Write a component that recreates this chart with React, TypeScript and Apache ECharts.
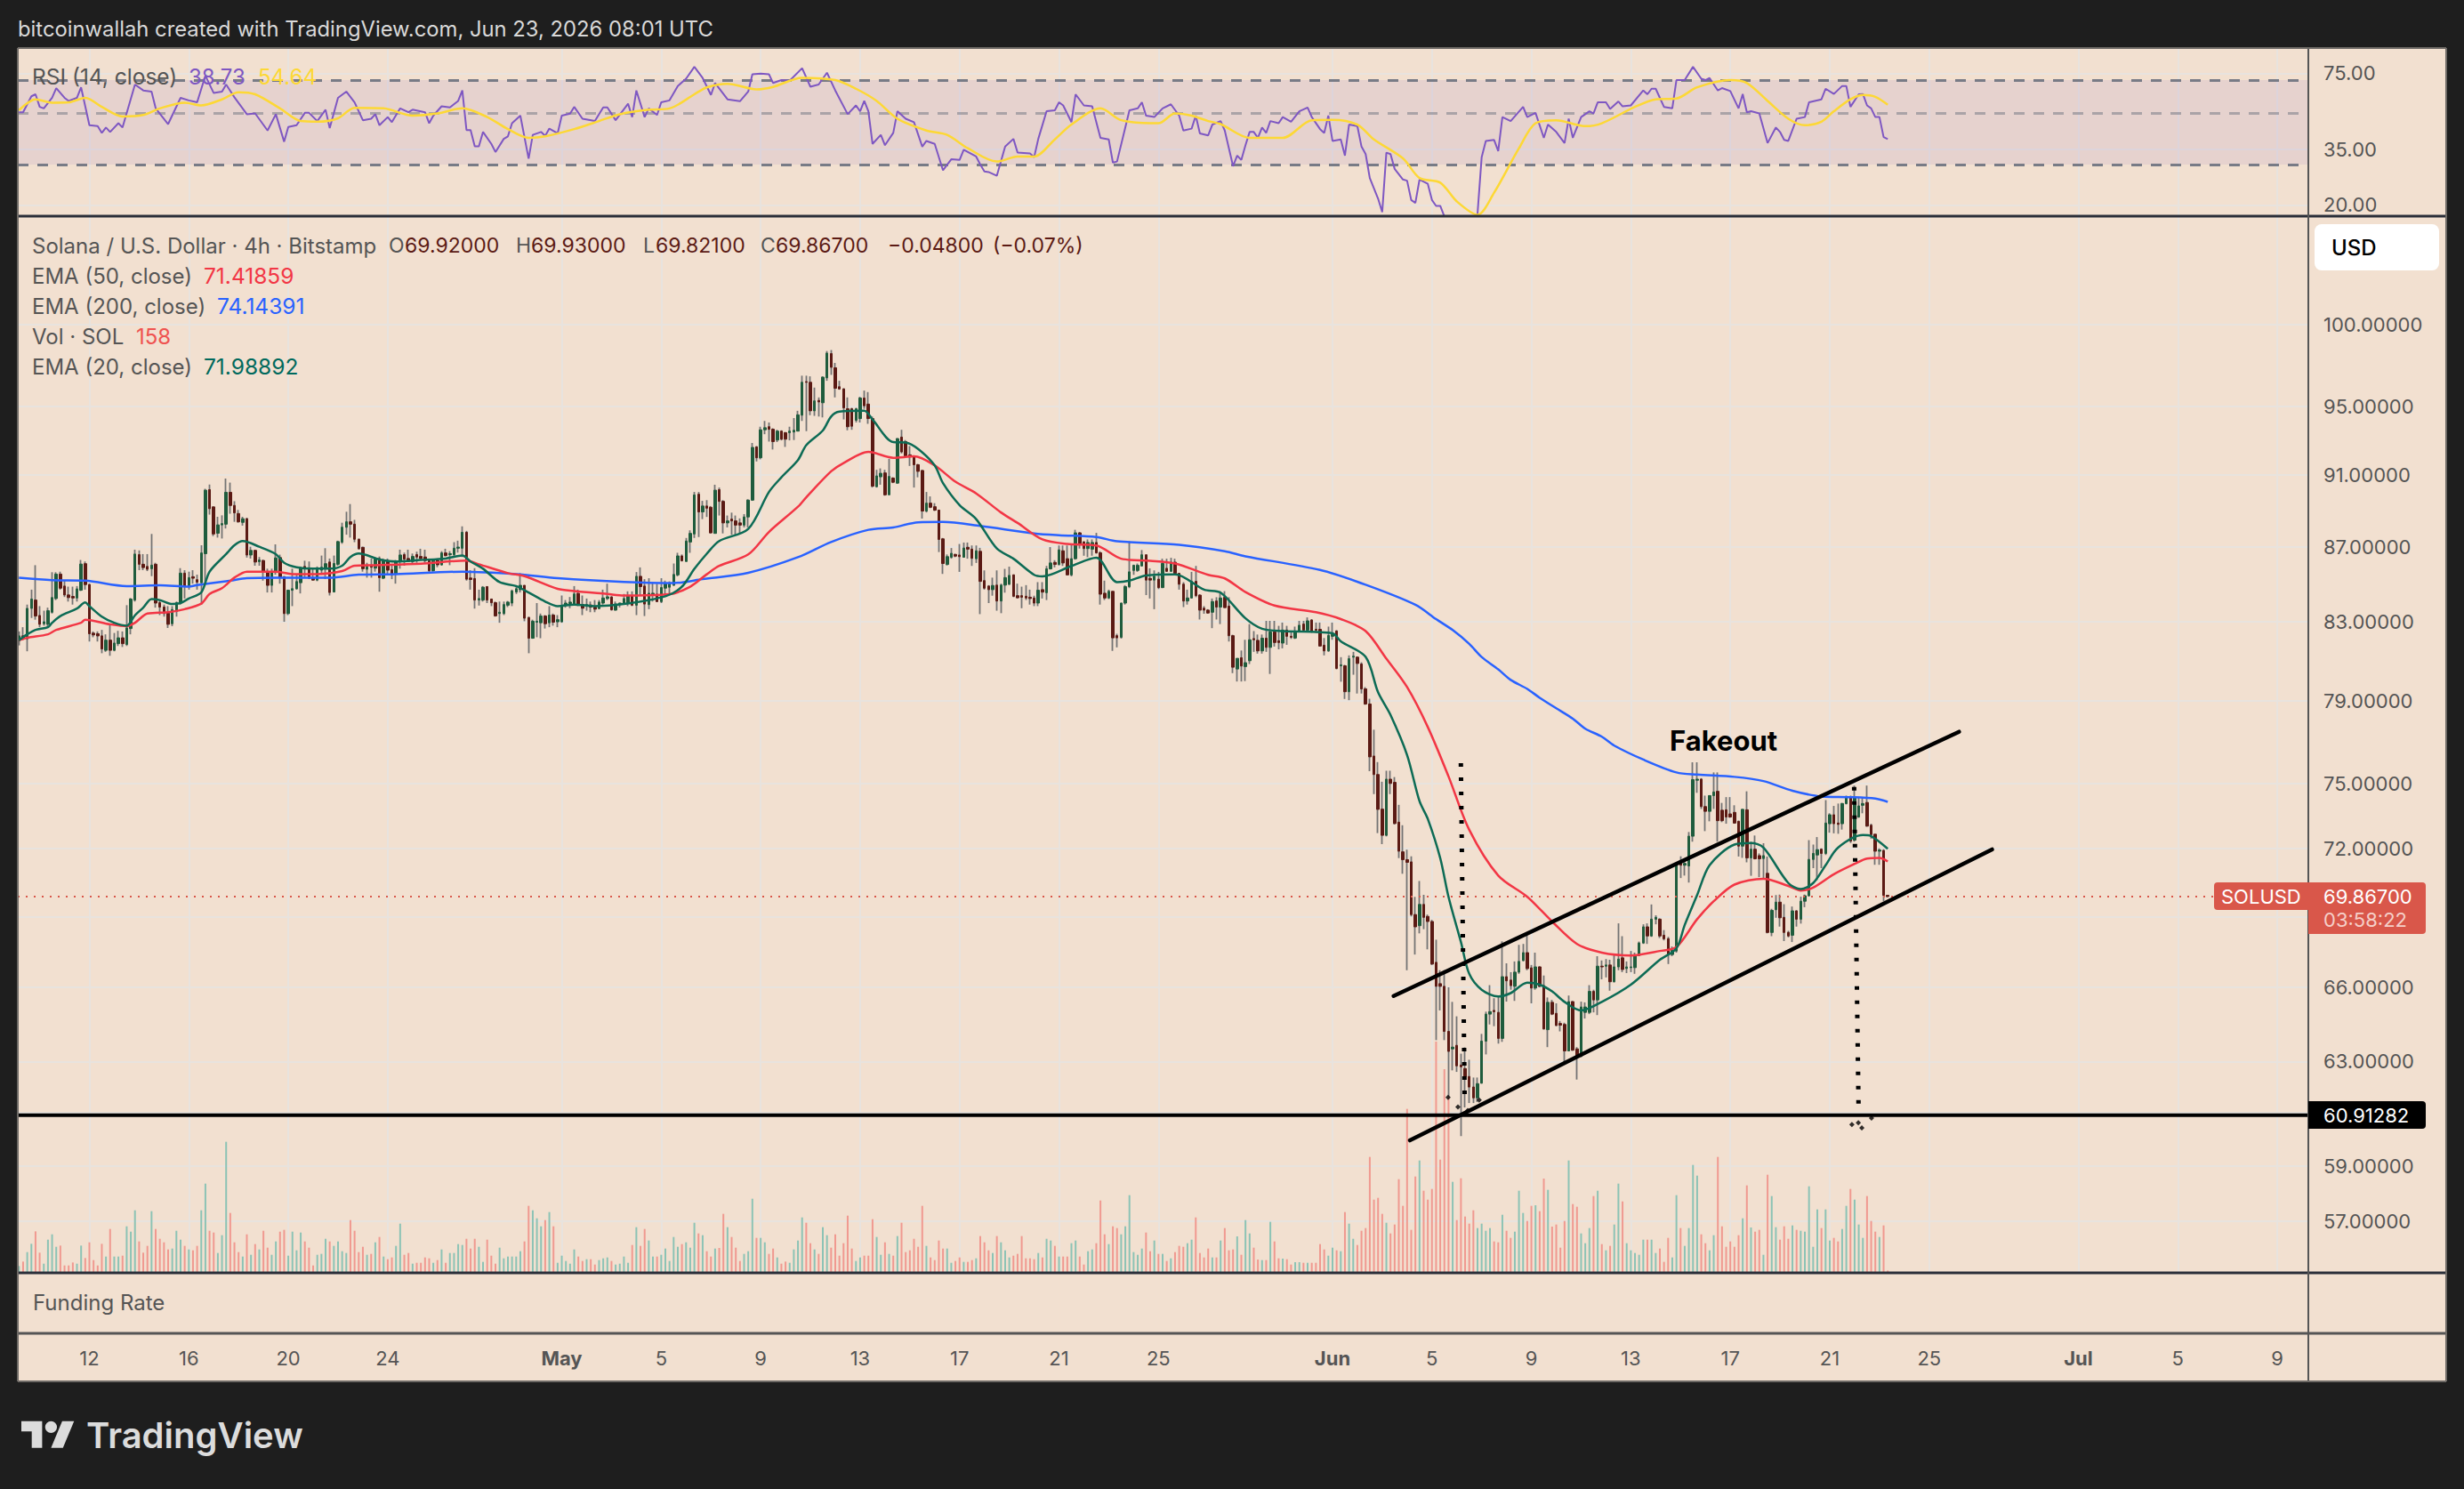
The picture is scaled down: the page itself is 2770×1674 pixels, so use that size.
import React, { useEffect, useRef } from "react";
import * as echarts from "echarts";

const FOUR_H = 4 * 3600 * 1000;
const FIRST_BAR = Date.UTC(2026, 3, 9, 4, 0);
const X_MIN = Date.UTC(2026, 3, 9, 2, 53);
const X_MAX = Date.UTC(2026, 6, 10, 6, 0);
const barTime = (i: number) => FIRST_BAR + i * FOUR_H;

// open, high, low, close per 4h bar
const candles: number[][] = [
[82.02,82.5,81.78,82.27],[82.27,82.72,82.05,82.12],[82.12,83.9,81.48,83.7],[83.7,84.69,83.2,84.19],[84.14,86,83.11,83.3],[83.33,83.82,82.72,82.87],[82.9,83.58,82.8,83],[82.87,83.74,82.72,83.58],[83.5,85.62,83.43,84.27],[84.22,85.62,84.14,85.52],
[85.52,85.65,84.69,84.77],[84.88,85.17,84.3,84.41],[84.41,84.85,84.06,84.27],[84.33,84.85,83.9,84.25],[84.25,84.88,84.06,84.73],[84.66,86.28,84.62,86.06],[86.08,86.2,84.69,84.96],[84.96,85.01,81.98,82.38],[82.41,82.5,82.2,82.32],[82.38,82.5,81.98,82.27],
[82.27,82.58,81.38,81.6],[81.53,82.35,81.45,82.05],[82.05,82.87,81.25,81.53],[81.53,82.42,81.48,81.9],[81.87,82.53,81.75,82.17],[82.17,82.5,81.7,81.87],[81.83,83.87,81.75,82.68],[82.65,84.25,82.35,84.19],[84.14,86.84,84.06,86.6],[86.57,86.8,85.73,86.05],
[86.05,86.6,85.73,85.87],[85.93,86.6,85.68,85.78],[85.81,87.7,85.41,86],[86.05,86.13,83.74,83.98],[84,84.14,83.35,83.77],[83.77,83.9,83.27,83.43],[83.45,83.82,82.68,82.87],[82.9,83.82,82.77,83.64],[83.55,84.06,83.27,84],[83.98,85.84,83.9,85.57],
[85.57,85.73,84.22,84.88],[84.88,85.65,84.69,85.33],[85.38,85.73,85.01,85.3],[85.22,85.49,84.69,85.09],[85.06,87.08,83.9,86.66],[86.62,90.22,85.01,90.14],[90.17,90.46,88.77,89.1],[89.2,89.23,87.58,87.7],[87.74,88.65,87.5,88.2],[88.2,88.73,87.45,88.27],
[88.24,90.8,88,90.02],[90.02,90.57,88.82,89.28],[89.28,89.52,88.37,88.87],[88.83,89.03,88.32,88.37],[88.34,88.65,88.16,88.54],[88.54,88.6,86.41,86.55],[86.55,87,86.36,86.8],[86.8,86.84,85.97,86.17],[86.19,86.44,85.97,86.28],[86.25,86.3,85.17,85.62],
[85.65,85.81,84.54,84.92],[84.92,85.81,84.54,85.65],[85.62,87.13,85.49,86.39],[86.41,86.57,85.01,85.33],[85.38,85.41,83,83.43],[83.43,84.69,83.35,84.66],[84.66,85.81,83.82,84.74],[84.74,85.49,84.69,85.12],[85.06,85.93,84.49,85.85],[85.93,86.24,85.33,85.85],
[85.84,86.2,85.25,85.3],[85.33,85.84,85.17,85.2],[85.2,85.93,85.14,85.76],[85.73,86.52,85.49,85.89],[85.84,86.92,85.25,86.08],[86.17,86.36,84.38,84.54],[84.57,86.52,84.54,86.09],[86.05,87.33,85.97,87.28],[87.25,88.32,87.16,88.07],[88.07,88.93,87.66,88.37],
[88.37,89.36,87.5,88.24],[88.24,88.48,87.25,87.41],[87.41,87.45,86.84,86.89],[86.97,87,85.65,85.81],[85.78,86.13,85.33,85.93],[86,86.36,85.33,85.89],[85.84,86.44,85.65,86.36],[86.36,86.47,84.58,85.33],[85.3,86.36,85.25,86.25],[86.25,86.36,85.49,85.73],
[85.76,85.97,85.25,85.49],[85.52,86.28,85.01,86.2],[86.2,86.84,85.81,86.55],[86.57,86.68,85.97,86.33],[86.36,86.84,86.16,86.2],[86.2,86.63,86.05,86.47],[86.57,86.73,86.13,86.44],[86.47,86.89,86.28,86.36],[86.44,86.84,86.13,86.25],[86.25,86.36,85.62,85.7],
[85.7,86.28,85.65,86.25],[86.25,86.36,85.89,86.02],[86.02,86.76,85.97,86.66],[86.66,86.89,86.47,86.52],[86.57,86.76,86,86.62],[86.57,87.25,86.44,86.92],[86.92,87.33,86.68,86.98],[86.92,88.12,86.44,87.79],[87.79,87.87,85.17,85.25],[85.31,85.73,84.69,85.23],
[85.28,85.84,83.69,84.14],[84.14,84.69,83.85,84.22],[84.14,84.88,84.06,84.82],[84.85,84.88,83.98,84.14],[84.19,84.22,83.82,84],[84,84.06,83.27,83.31],[83.43,84.06,82.95,83.5],[83.43,84.06,83.35,83.9],[83.87,84.09,83.77,84.03],[83.98,84.69,83.82,84.62],
[84.57,84.88,84.46,84.74],[84.69,85.57,84.54,84.92],[84.92,84.93,83.03,83.19],[83.22,83.27,81.38,82.15],[82.15,83.11,82.12,83.03],[82.98,83.98,82.2,83.03],[82.95,83.43,82.15,83.3],[83.3,83.35,82.65,82.9],[82.95,83.82,82.72,83.35],[83.35,83.43,82.8,82.98],
[83,83.35,82.72,83.11],[83,84.38,82.95,83.82],[83.85,84.14,83.74,83.98],[83.95,84.3,83.71,84.03],[83.9,84.88,83.9,84.46],[84.49,84.69,83.82,83.9],[83.9,84.38,83.35,83.71],[83.85,84.22,83.58,83.9],[83.88,84.06,83.5,83.77],[83.77,84.14,83.5,83.66],
[83.69,84.14,83.66,84.03],[83.98,84.69,83.9,84.25],[84.22,85.01,84.14,84.31],[84.3,84.35,83.58,83.63],[83.61,84.06,83.58,83.93],[83.9,84,83.75,83.98],
[83.93,84.46,83.9,84.22],[83.98,84.6,83.82,84.38],[84.38,84.6,83.82,83.87],[83.87,85.63,83.35,85.4],[85.4,85.88,84.37,84.85],[84.88,85.25,83.3,83.93],[83.9,85.3,83.66,84.5],[84.4,85.09,84.06,84.5],[84.45,85,84.03,84.06],[84.06,85.3,83.98,84.8],
[84.77,85.17,84.34,85],[84.82,85.13,84.45,85],[84.93,86.09,84.88,85.5],[85.48,86.67,85.4,86.5],[86.5,86.58,86.2,86.24],[86.2,87.48,86.2,87.31],[87.26,87.9,86.67,87.73],[87.7,90.04,87.48,89.87],[89.91,90.04,87.53,88.92],[88.92,89.54,88.52,89.25],
[89.25,89.58,88.64,89.13],[89.18,89.25,87.73,87.76],[87.73,90.45,87.73,90.14],[90.17,90.29,88.72,89.51],[89.51,89.58,87.73,88.31],[88.31,88.72,88.06,88.42],[88.52,88.88,87.65,88.42],[88.42,88.72,87.65,88.19],[88.31,88.56,87.73,88.19],[88.19,88.8,88.06,88.64],
[88.64,89.63,88.06,89.58],[89.58,92.85,89.54,92.59],[92.62,92.67,91.78,91.99],[91.99,93.8,91.9,93.62],[93.62,94.14,93.36,93.74],[93.8,94.05,92.93,93.65],[93.65,93.71,92.47,92.93],[93.02,93.62,92.9,93.54],[93.54,93.59,93,93.07],[93.45,93.49,92.62,93.07],
[93.45,93.8,93,93.54],[93.49,94.31,93.02,93.59],[93.54,94.74,93.54,94.5],[94.48,96.85,94.14,96.45],[96.49,96.85,93.54,96.45],[96.45,96.81,94.48,94.74],[94.74,96.13,94.44,95.33],[95.36,95.54,94.4,95.27],[95.22,96.81,94.35,96.76],[96.72,98.36,96.54,98.23],
[98.2,98.42,96.9,97.36],[97.33,97.63,95.54,96.09],[96.18,96.54,96,96.05],[96.05,96.09,94.23,94.92],[94.86,95.54,93.59,93.8],[94.86,94.92,93.62,93.83],[94.18,94.92,94.05,94.86],[94.28,95.58,94.05,95.5],[95.5,95.95,94.86,95.04],[95.14,95.86,93.97,94.28],
[94.28,94.4,90.29,90.37],[90.34,91.3,90.29,90.95],[90.9,91.38,90.45,91.1],[91.12,91.3,89.83,89.88],[89.88,91.93,89.88,90.92],[90.83,90.87,90.54,90.59],[90.54,93.14,90.5,93.1],[93.19,93.62,92.24,92.33],[92.93,93.02,92.07,92.1],[92.16,92.67,91.52,92.04],
[92.04,92.07,90.29,91.59],[91.59,91.64,90.87,91.21],[91.26,91.3,88.55,88.97],[88.97,90.04,88.89,89.41],[89.41,89.79,89.13,89.18],[89.21,89.41,88.97,89.02],[89.02,89.05,86.71,87.4],[87.43,87.48,85.53,86.09],[86.04,86.58,85.98,86.46],[86.43,86.93,86.35,86.64],
[86.58,86.62,86.43,86.49],[86.55,87.15,85.64,86.46],[86.43,87.23,86.4,86.93],[86.97,87.23,86.35,86.87],[86.87,87.07,85.96,86.37],[86.35,87.07,86.12,86.78],[86.75,86.94,83.4,85.13],[85.17,85.72,84.69,84.77],[84.88,84.93,83.98,84.69],[84.69,85.33,84.37,84.91],
[84.93,85.72,83.58,84.09],[84.09,85.01,83.45,84.93],[84.93,85.8,84.53,85.33],[84.98,85.92,84.93,85.45],[85.48,85.5,84.29,84.34],[84.37,85.01,84.22,84.26],[84.37,84.85,83.71,84.29],[84.34,84.93,84.14,84.25],[84.29,84.69,83.9,84.22],[84.25,84.37,83.82,83.98],
[83.98,85.09,83.82,84.66],[84.69,85.09,84.22,84.56],[84.53,85.96,84.14,85.8],[85.8,86.98,85.77,86.12],[86.15,86.27,85.88,86.04],[86.04,87.07,85.98,86.83],[86.78,87.07,85.96,86.12],[86.35,87.07,85.45,85.48],[85.48,87.15,85.4,86.35],[86.35,87.93,86.3,87.76],
[87.76,87.81,86.9,87.15],[87.26,87.31,86.51,86.9],[86.9,87.4,86.43,87.23],[86.87,87.4,86.51,87.23],[87.23,87.76,86.62,86.67],[86.67,86.75,83.9,84.45],[84.5,85.17,84.14,84.25],[84.25,84.69,84.19,84.6],[84.6,84.61,81.5,82.17],[82.28,82.38,81.68,82.17],
[82.2,84,82.13,83.98],[83.98,84.93,83.9,84.85],[84.85,87.31,84.77,85.64],[85.72,86.03,85.48,85.99],[85.72,86.09,85.64,85.99],[85.96,86.82,85.93,86.56],[86.56,86.58,84.4,85.2],[85.29,85.83,84.22,85.2],[85.2,85.72,83.66,85.4],[85.25,85.64,84.72,84.8],
[84.8,86.35,84.77,86.09],[85.83,86.35,85.64,85.67],[85.67,86.4,85.64,86.16],[86.16,86.35,85.53,85.56],[85.56,85.56,84.69,84.98],[84.98,85.09,83.77,84.09],[84.09,84.69,83.9,84.25],[84.25,85.64,84.22,85.13],[85.13,85.96,84.29,84.37],[84.4,84.45,83.12,83.61],
[83.71,83.82,83.42,83.61],[83.61,83.66,83.42,83.46],[83.5,84.22,82.67,84.06],[84.09,84.29,83.12,83.77],[83.77,84.61,82.88,84.25],[84.28,84.61,83.74,83.74],[83.82,84.29,81.98,82.28],[82.28,82.33,80.37,80.67],[80.58,81.12,79.95,81.12],[81.15,81.52,79.95,80.73],
[80.7,82.07,79.97,80.9],[81,82.88,80.83,82.07],[82.13,82.52,81.45,82.07],[82.04,82.34,81.36,81.5],[81.5,82.34,81.36,82.15],[82.15,83.05,81.45,81.68],[81.68,83.05,80.33,82.47],[82.47,83.05,81.72,81.93],[82.02,82.79,81.58,81.93],[81.9,82.96,81.63,82.57],
[82.57,82.79,81.81,82.25],[82.25,82.47,82.11,82.2],[82.16,82.75,82.11,82.52],[82.52,83.05,82.47,82.82],[82.88,83.05,82.47,82.57],[82.57,83.23,82.47,83.05],[83.09,83.14,82.43,82.52],[82.61,82.96,82.43,82.57],[82.61,82.96,81.72,81.75],[81.79,82.16,81.27,81.5],
[81.5,82.75,81.45,82.29],[82.25,82.96,82.07,82.34],[82.52,82.57,80.56,80.61],[80.74,81.18,79.94,80.79],[80.74,80.79,79.08,79.44],[79.44,81.27,79.02,81.1],[81.18,81.45,80.29,81.23],[81.18,81.22,79.35,80.86],[80.83,80.92,79.35,79.58],[79.58,79.67,78.79,78.83],
[78.83,79.09,75.58,76.26],[76.3,77.57,74.5,75.42],[75.42,76.01,72.7,73.79],[73.8,75.08,72.2,72.6],[72.6,75.6,72.55,75.2],[75.2,75.6,74.5,75],[75.05,75.3,73.09,73.14],[73.2,74,71.57,71.88],[71.85,73.06,70.87,71.5],[71.5,71.95,66.71,71.38],
[71.4,71.65,69,69.08],[69.08,69.85,67.37,68.55],[68.6,70.55,68.27,69.52],[69.52,69.94,68.45,68.96],[69,69.08,67.59,68.78],[68.78,68.85,66.93,66.97],[67.04,68,63.85,66.04],[66.15,66.71,65.05,66.04],[66.04,66.71,63.85,64.2],[64.2,66,61.63,63.4],
[63.5,65.4,62.65,63.57],[63.64,64.81,62.59,62.83],[62.86,63.31,60.12,62.79],[62.72,63.56,61.21,62.41],[62.41,63.07,61.38,62],[62,62.37,61.38,61.58],[61.58,62.37,61.42,62.13],[62.15,64.1,62.13,63.81],[63.81,65,63.28,64.9],[64.9,66.09,64.48,65],
[65.05,65.55,64.41,65],[64.97,65.62,63.71,63.92],[63.92,67.93,63.78,66.44],[66.44,67,65.41,66.27],[66.3,66.63,65.9,66.07],[66.04,67.08,65.44,66.63],[66.63,67.78,66.56,67.08],[67.12,67.82,67.08,67.45],[67.45,68.19,66.71,66.78],[66.81,66.93,65.34,65.97],
[65.97,67.45,65.9,66.85],[66.85,66.88,66,66.04],[66.07,66.49,64.27,64.3],[64.27,65.58,63.57,65.38],[65.38,65.48,64.86,64.9],[64.93,65.34,64.41,64.44],[64.52,64.62,64.2,64.45],[64.48,64.55,62.93,63.42],[63.42,65.66,63.4,65.41],[65.41,65.44,63.42,63.45],
[63.5,63.57,62.29,63.17],[63.21,65.41,63.17,65.19],[64.97,65.38,64.72,65.19],[64.97,66.09,64.9,65.83],[65.83,65.9,64.97,65.48],[65.48,67.3,64.86,66.88],[66.88,67.12,66.33,66.85],[66.88,67.18,66.41,66.93],[66.93,67.15,65.86,66.23],[66.23,67.38,66.2,66.85],
[66.85,68.7,66.71,67.18],[67.23,68.15,66.63,66.74],[66.78,67.08,66.59,66.85],[66.82,67.52,66.63,66.85],[66.82,67.45,66.56,67.33],[67.33,67.92,67.3,67.86],[67.86,68.66,67.82,68.55],[68.55,68.7,67.82,68.16],[68.16,69.52,68.12,68.88],[68.88,69.05,68.66,68.96],
[68.88,68.92,68.07,68.16],[68.19,68.41,67.97,68.04],[68.04,68.12,66.97,67.37],[67.37,67.71,67.3,67.55],[67.52,71.33,67.45,71.25],[71.33,71.65,70.68,71.25],[71.25,71.49,70.79,71.33],[71.22,72.75,70.48,72.56],
[72.56,76,72.31,75.18],[75.15,76,74.56,75.2],[75.2,75.25,73.81,73.92],[73.92,74.43,72.79,73.7],[73.7,74.45,73.24,74.43],[74.43,75.52,73.81,74.6],[74.63,75.52,72.31,73.27],[73.75,74.09,73.2,73.27],[73.77,74.36,73.13,73.44],[73.58,74.36,73.4,73.44],
[73.65,73.98,73.13,73.16],[73.24,73.27,71.64,72.11],[72.11,73.81,71.58,73.79],[73.77,74.63,71.38,71.58],[71.58,72.31,70.78,71.97],[71.97,72.59,71.51,71.54],[71.68,71.78,70.72,71.54],[71.55,72.24,70.65,71.68],[70.89,71.64,68.27,68.31],[68.31,69.33,68.15,69.26],
[69.29,69.93,68.94,69.62],[69.62,69.95,68.56,68.94],[68.96,69.53,67.94,68.31],[68.31,68.38,68.1,68.16],[68.19,69.43,67.9,69.24],[69.24,69.27,68.56,68.88],[68.88,69.86,68.69,69.66],[69.66,69.95,69.4,69.9],[69.9,72.38,69.86,71.51],[71.51,72.18,71.12,71.78],
[71.71,72.52,70.59,71.95],[71.97,72.01,71.12,71.78],[71.78,74.22,71.71,73.16],[73.13,73.61,72.72,73.54],[73.54,73.95,72.69,73.13],[73.16,74.06,72.67,73.1],[73.13,74.09,72.86,74.06],[74.06,74.43,74.02,74.36],[74.36,74.43,72.25,72.34],[72.38,74.9,72.31,74.33],
[73.44,74.36,73.4,73.95],[73.98,74.36,73.61,74.06],[74.11,74.9,72.99,73.02],[73.06,73.13,72.45,72.63],[72.65,72.65,71.27,71.88],[71.88,72.01,71.27,71.93],[71.91,71.97,69.66,69.92],[69.92,69.93,69.821,69.867],
];

// traded volume per bar, SOL
const volumes: number[] = [
460,760,1400,1960,2800,1360,620,2240,2600,1760,1840,500,500,700,620,1840,1000,2060,860,500,1960,1100,2960,1100,1100,1160,3140,2780,4220,2120,1360,1820,4160,2960,2300,2060,1580,1640,2840,2240,1820,1580,1520,1820,4220,6020,2840,2720,1340,2540,8840,4040,2060,1400,1100,2600,1220,1940,1580,2840,
1700,1220,2120,2780,2900,1160,2780,1520,2720,2120,1700,500,1220,1280,2300,2120,1820,2120,1460,1340,3560,2840,1400,1760,1220,1280,2060,2420,1100,920,1040,1820,3320,1220,1340,620,680,680,1040,980,
680,860,1580,680,1340,1340,1940,1880,2300,1640,2300,1760,740,2240,1160,620,1700,980,1100,1100,1100,1460,2120,4520,4220,3680,3140,3560,4100,3140,680,1160,800,620,1580,1100,800,920,920,560,
860,980,1040,800,560,620,1100,680,1880,3080,1820,2960,2180,1100,1100,1220,1640,800,2420,1760,1940,2060,1700,3380,2660,2540,1460,1100,1640,1680,3980,3080,2420,1700,800,1280,1460,5000,2360,2360,
2060,1280,1640,1040,620,760,680,1580,2180,3740,3380,2000,1580,1280,3080,2540,1700,2600,1160,2000,3860,1640,800,1040,1160,1160,3620,2420,1220,2060,1280,1160,2480,3380,1400,1520,2300,1760,4520,1820,
1040,860,2180,1640,1640,680,800,1040,740,740,860,980,2480,2060,1520,1340,2480,2060,1520,1040,1160,1280,2480,980,980,920,1340,1040,2300,2180,1820,1100,1100,1100,2000,2180,1100,560,1460,1580,2000,4880,
2600,1940,3140,3020,2600,3140,5240,1400,1220,1640,2720,1460,2180,1280,1280,800,980,1400,1820,1760,2000,2240,3740,1340,1040,1640,1040,1040,2180,3020,1520,1580,2460,1220,3560,2660,1700,900,860,860,3440,2120,
980,960,920,560,720,720,680,680,680,680,1940,1580,1160,1700,1520,1460,4100,3320,2300,1880,2840,3020,7820,4940,5060,3980,3380,2660,3260,6320,4520,11060,2900,6500,7580,5540,4940,5660,15600,7640,13740,11880,
6140,3560,6380,3800,3320,4220,3020,3320,2840,3020,2120,2060,3920,2840,2360,2780,5540,4040,3500,4520,4560,4160,6360,5600,3120,3260,1700,3500,7580,4640,4460,2660,2000,3020,5180,5540,1940,1520,1820,3260,
6020,4820,2000,1520,1340,1220,2240,2240,2240,1340,1640,740,2360,1040,5240,3020,1820,3020,7280,6560,2600,2000,1520,2540,7820,3140,1760,2120,1760,2540,3680,5900,3060,2780,2900,1220,6620,5180,3080,2240,
3140,2300,3200,2900,2840,2780,5840,1760,4280,3020,4280,2180,2360,2120,2960,4520,5660,4940,3260,2360,5180,3500,2780,2420,3200,158,
];

// [bar index, value] read along each moving average
const ema20: number[][] = [[0,82.05],[2,82.35],[4,82.58],[7,82.72],[8,82.95],[10,83.3],[14,83.69],[16,84.01],[17,83.82],[20,83.27],[23,82.95],[26,82.8],[28,83.34],[30,83.74],[32,84.19],[34,84.14],[37,83.93],[39,83.98],[41,84.22],[44,84.54],[46,85.65],[50,86.6],[52,87.08],[54,87.31],[58,87],[62,86.6],[64,86.13],[67,85.89],[71,85.81],[75,85.81],[78,85.97],[80,86.44],[82,86.63],[87,86.31],[91,86.2],[97,86.28],[103,86.36],[107,86.52],[109,86.2],[112,85.81],[116,85.09],[120,84.88],[123,84.54],[127,84.06],[130,83.82],[134,83.9],[139,83.82],[146,83.93],[156,84.34],[160,84.85],[163,85.8],[166,86.62],[169,87.31],[176,87.98],[181,90.04],[184,90.87],[188,91.86],[190,92.72],[194,93.58],[196,94.4],[198,94.69],[204,94.74],[206,94.22],[211,92.9],[214,92.88],[217,92.5],[221,91.55],[223,90.54],[227,89.3],[231,88.52],[236,86.9],[240,86.35],[245,85.48],[247,85.4],[254,85.96],[260,86.4],[265,85.09],[268,85.17],[272,85.45],[279,85.51],[286,84.69],[290,84.53],[296,83.18],[300,82.64],[305,82.52],[317,82.4],[319,81.99],[325,81.19],[328,79.41],[331,78.29],[335,76.35],[338,74.17],[340,73.35],[343,71.57],[345,69.85],[348,67.9],[350,66.56],[353,65.9],[357,65.62],[360,65.76],[364,66.19],[367,66.11],[370,65.83],[373,65.4],[377,65.05],[382,65.4],[389,66.11],[396,67.15],[400,67.63],[402,68.63],[405,69.93],[408,71.25],[414,72.18],[418,72.25],[421,72.04],[427,70.46],[430,70.19],[433,70.46],[436,71.25],[439,72.04],[445,72.61],[447,72.56],[451,71.99]];
const ema50: number[][] = [[0,82.05],[2,82.17],[7,82.35],[9,82.58],[15,82.95],[16,83.11],[22,82.87],[26,82.77],[28,82.95],[31,83.43],[36,83.5],[40,83.66],[44,83.95],[46,84.46],[49,84.77],[52,85.33],[55,85.65],[62,85.65],[66,85.52],[72,85.52],[78,85.68],[81,85.97],[86,86],[97,86.08],[108,86.25],[111,86.05],[118,85.57],[122,85.41],[130,84.73],[134,84.62],[142,84.46],[146,84.38],[157,84.45],[162,84.85],[166,85.51],[169,85.96],[176,86.58],[181,87.81],[188,89.21],[190,89.74],[196,91.21],[199,91.69],[205,92.33],[211,91.99],[216,92.07],[221,91.55],[226,90.62],[231,89.96],[237,88.89],[241,88.31],[247,87.4],[253,87.15],[260,87.07],[266,86.35],[273,86.24],[279,86.09],[287,85.48],[291,85.29],[296,84.56],[303,83.85],[313,83.5],[319,83.14],[325,82.52],[330,81.1],[335,79.67],[340,77.7],[345,75.33],[350,72.85],[357,70.79],[364,69.85],[370,68.78],[376,67.82],[382,67.45],[389,67.33],[396,67.52],[400,67.69],[405,68.88],[409,69.66],[414,70.39],[421,70.65],[427,70.33],[430,70.13],[433,70.26],[438,70.85],[443,71.31],[446,71.55],[449,71.58],[451,71.42]];
const ema200: number[][] = [[0,85.33],[8,85.2],[16,85.17],[26,84.88],[34,84.92],[41,84.85],[43,84.93],[51,85.17],[55,85.3],[62,85.33],[75,85.33],[82,85.49],[91,85.52],[107,85.65],[120,85.52],[130,85.3],[146,85.1],[158,85.04],[165,85.25],[176,85.59],[188,86.43],[196,87.26],[205,87.93],[211,88.06],[217,88.34],[223,88.36],[232,88.14],[245,87.73],[251,87.63],[260,87.53],[265,87.3],[280,87.1],[291,86.75],[296,86.48],[314,85.74],[325,84.95],[337,83.89],[342,83.14],[346,82.57],[350,81.86],[353,81.19],[357,80.56],[360,80.03],[364,79.58],[367,79.14],[371,78.62],[375,78.11],[378,77.62],[382,77.23],[385,76.8],[392,76.13],[400,75.52],[405,75.42],[414,75.31],[421,75.11],[428,74.66],[435,74.39],[442,74.36],[448,74.29],[451,74.14]];

const rsi: number[][] = [[0,50.7],[1,50.7],[3,59.5],[4,60.7],[5,53.5],[6,52.7],[8,58.6],[9,64.6],[11,58.6],[12,56.8],[14,58.6],[15,65.1],[17,44.5],[19,44.1],[20,41.2],[21,43.5],[22,41.6],[24,45.4],[25,43.5],[28,67],[30,63.1],[32,62.4],[33,52.7],[36,45],[39,58.6],[41,57.1],[43,56],[45,73.2],[47,61.5],[49,62.4],[50,67],[52,58.9],[55,49.7],[57,50.1],[60,42.2],[62,49.7],[64,37.7],[65,43.7],[67,44.5],[69,50.4],[70,50.4],[72,46.4],[74,52],[75,43.2],[77,58.6],[79,62.4],[81,56],[83,46.8],[85,47.5],[86,49.7],[87,44.5],[89,48.3],[90,45.9],[92,52.7],[94,50.7],[95,52],[98,50.7],[99,45.4],[100,49],[102,53.8],[104,53.2],[106,56.8],[107,63.1],[108,42.4],[109,42.4],[110,36],[111,36],[112,41.6],[114,36.9],[115,34],[117,38.8],[118,39.8],[119,45.4],[121,49],[123,31.8],[124,40.4],[126,41.6],[127,40],[128,43],[130,41],[131,49],[133,50],[134,53.5],[136,47.5],[139,46.4],[141,53.2],[142,53.2],[144,46.8],[147,55.2],[148,48.3],[149,63.1],[151,48.3],[152,52.7],[154,49.3],[155,56],[157,57.1],[159,66],[161,71],[163,80],[165,71.5],[167,60.3],[168,68],[171,57.7],[174,56.6],[176,62.4],[177,74.2],[179,74.7],[181,74.2],[182,68],[184,70],[186,69.6],[189,78.9],[191,65.5],[193,67],[195,75.4],[197,63.1],[200,49.7],[202,54.3],[203,51.2],[204,56.8],[205,51.2],[206,36.9],[208,40.4],[209,36.4],[211,41.2],[212,51.2],[214,47.5],[216,45.9],[218,35.9],[219,38],[221,36.9],[223,28.3],[225,31.6],[227,31.4],[228,34.8],[231,32.5],[232,30],[233,28],[234,27.8],[236,26.8],[238,35.9],[240,38.8],[241,33.8],[244,33.5],[245,32.3],[246,38.8],[248,51.2],[250,51.7],[251,56],[252,54.3],[254,45.9],[255,60.7],[257,54.3],[259,53.8],[261,39.2],[263,38.6],[264,30.6],[265,30.9],[267,43.5],[268,51.7],[270,52.7],[271,56],[272,49],[274,48.3],[276,52.7],[278,54.9],[280,49],[281,42.2],[283,43],[284,49],[285,41],[287,40.2],[288,44.8],[290,46.4],[291,42.2],[293,29.5],[294,32.8],[295,31.4],[296,36.4],[297,41.6],[298,41.6],[299,39.2],[300,43.5],[301,41.2],[302,46.4],[304,45.4],[305,48.3],[307,46.1],[309,51.2],[311,53.2],[312,48.3],[314,42.8],[315,41.2],[316,49],[317,38],[319,38.6],[320,32.8],[321,44.8],[323,44.1],[324,35.9],[325,33.3],[326,26.2],[328,21.3],[329,18.6],[330,33.8],[331,33.3],[332,28.7],[334,25.8],[335,25.5],[336,21],[337,20.4],[338,25.8],[340,24.7],[341,21],[342,19.8],[343,19.8],[344,17.8],[347,16],[350,15.5],[352,18.3],[353,32.3],[354,38],[356,38.4],[357,34.3],[358,48.3],[360,46.4],[363,53.5],[364,48.3],[366,50.4],[368,39.2],[369,44.8],[371,41.6],[373,37.2],[374,47.5],[375,39.2],[377,48.3],[379,51.2],[380,50.1],[381,56],[383,56],[384,52.4],[386,56.5],[387,53.8],[389,54.3],[392,63.1],[393,60.7],[394,64.2],[395,64.2],[397,53.5],[399,52.7],[400,70],[402,70],[404,80],[406,71],[407,70],[408,71.5],[410,63.1],[411,64.6],[413,62.7],[415,52.7],[416,60.9],[417,50.7],[418,51.2],[420,50.1],[422,37.2],[424,43.5],[425,41.6],[426,38.4],[427,38],[429,47.5],[431,48.3],[432,56],[435,57.7],[436,64.2],[438,60.9],[440,66],[441,66],[442,53.5],[444,60.7],[445,60.9],[446,54.3],[447,52.7],[448,48.3],[449,48.3],[450,39.5],[451,38.73]];
const rsiMa: number[][] = [[0,51.7],[4,57.7],[8,55.8],[12,56],[16,58.6],[20,53.5],[25,48.6],[30,49.3],[34,52.7],[40,55.8],[44,54.3],[49,57.7],[53,62],[57,60.7],[63,52.7],[68,46.4],[72,46.1],[77,47.7],[81,53],[88,52.7],[95,49],[101,50.1],[107,52.7],[113,48.3],[118,42.8],[123,39.2],[127,39.8],[134,42.8],[140,46.4],[145,49.7],[152,52],[157,52.7],[163,60.7],[166,65.1],[171,67.5],[178,63.8],[182,65.4],[189,71.7],[197,70],[202,64.2],[207,56.8],[212,47.5],[219,42.2],[224,40.4],[229,35.3],[236,30.9],[241,32.5],[245,32.5],[250,38.6],[254,44.8],[261,52.7],[266,46.8],[275,45.4],[279,50.1],[283,49],[287,46.4],[290,45],[297,39.2],[305,39.2],[312,46.8],[317,47],[323,44.8],[327,38.6],[334,31.9],[338,26.2],[343,25],[347,20.7],[352,18.1],[356,22.6],[362,35.3],[366,45.4],[371,46.8],[378,44.1],[382,45.4],[390,53.5],[395,57.7],[400,58.2],[405,65.1],[413,70],[417,68],[422,56.8],[427,47.5],[431,44.5],[435,46.1],[438,51.2],[442,57.7],[445,60.3],[448,59.2],[451,54.64]];

const rsiTicks = [75, 35, 20];
const priceTicks = [100, 95, 91, 87, 83, 79, 75, 72, 66, 63, 59, 57];
const priceGridLevels = [100, 95, 91, 87, 83, 79, 75, 72, 69, 66, 63, 61, 59, 57];
const xTickDates = [[3,12],[3,16],[3,20],[3,24],[4,1],[4,5],[4,9],[4,13],[4,17],[4,21],[4,25],[5,1],[5,5],[5,9],[5,13],[5,17],[5,21],[5,25],[6,1],[6,5],[6,9]];
const xTickLabels = ["12","16","20","24","May","5","9","13","17","21","25","Jun","5","9","13","17","21","25","Jul","5","9"];
const xTicks = xTickDates.map(([m, d]) => Date.UTC(2026, m, d));

const LAST_PRICE = 69.867;
const SUPPORT = 60.91282;
const upperChannel = [[Date.UTC(2026, 5, 3, 11, 0), 65.64], [Date.UTC(2026, 5, 26, 4, 48), 77.47]];
const lowerChannel = [[Date.UTC(2026, 5, 4, 2, 43), 59.96], [Date.UTC(2026, 5, 27, 12, 43), 71.96]];
const leftDrop = [[Date.UTC(2026, 5, 6, 3, 55), 75.96], [Date.UTC(2026, 5, 6, 7, 40), 61.35]];
const rightDrop = [[Date.UTC(2026, 5, 21, 23, 33), 74.83], [Date.UTC(2026, 5, 22, 3, 50), 61.18]];
const arrowDots = [
  [Date.UTC(2026, 5, 5, 15, 36), 61.6], [Date.UTC(2026, 5, 6, 1, 5), 61.23], [Date.UTC(2026, 5, 6, 10, 33), 61.09], [Date.UTC(2026, 5, 6, 21, 36), 61.49],
  [Date.UTC(2026, 5, 21, 21, 22), 60.56], [Date.UTC(2026, 5, 22, 3, 36), 60.63], [Date.UTC(2026, 5, 22, 6, 58), 60.43], [Date.UTC(2026, 5, 22, 16, 19), 60.8],
];

const FONT = "Inter, 'Noto Sans', sans-serif";
const GREY = "#555555";
const PEACH = "#f2e0d0";
const GRIDC = "#e8e3de";
const DARK = "#1e1e1e";

const tvPath = "M14 22H7V11H0V4h14v18zM28 22h-8l7.5-18h8L28 22zM24 8a4 4 0 1 1-8 0 4 4 0 0 1 8 0z";
echarts.graphic.registerShape("tvlogo", echarts.graphic.extendPath(tvPath, {}));

const txt = (x: number, y: number, text: string, fill: string, fontSize = 24, fontWeight: any = 400, extra: any = {}) => ({
  type: "text", x, y, z: 100, silent: true,
  style: { text, fill, fontSize, fontWeight, fontFamily: FONT, verticalAlign: "middle", ...extra },
});
const box = (x: number, y: number, width: number, height: number, fill: string, r: any = 0, z = 90) => ({
  type: "rect", x, y, z, silent: true, shape: { x: 0, y: 0, width, height, r }, style: { fill },
});

function buildOption() {
  const pts = (rows: number[][]) => rows.map(([i, v]) => [barTime(i), v]);
  const overlay = (name: string, data: any[], color: string, width: number, extra: any = {}) => ({
    name, type: "line", xAxisIndex: 1, yAxisIndex: 1, data, showSymbol: false, silent: true,
    lineStyle: { color, width, ...extra.line }, smooth: extra.smooth ?? false, z: extra.z ?? 5,
  });
  const vGrid = { show: true, lineStyle: { color: GRIDC, width: 2 } };
  return {
    animation: false,
    backgroundColor: DARK,
    grid: [
      { left: 20, right: 175, top: 54, height: 189 },
      { left: 20, right: 175, top: 243, height: 1188 },
    ],
    xAxis: [
      { type: "value", gridIndex: 0, min: X_MIN, max: X_MAX, axisLine: { show: false }, axisLabel: { show: false },
        axisTick: { show: false, customValues: xTicks }, splitLine: vGrid },
      { type: "value", gridIndex: 1, min: X_MIN, max: X_MAX, axisLine: { show: false },
        axisTick: { show: false, customValues: xTicks }, splitLine: vGrid,
        axisLabel: {
          customValues: xTicks, margin: 85, color: GREY, fontSize: 22, fontFamily: FONT, hideOverlap: false,
          formatter: (v: number) => {
            const k = xTicks.indexOf(v);
            const s = xTickLabels[k] ?? "";
            return /[A-Z]/.test(s) ? `{m|${s}}` : s;
          },
          rich: { m: { fontWeight: 700, fontSize: 22, color: GREY, fontFamily: FONT } },
        } },
    ],
    yAxis: [
      { type: "log", gridIndex: 0, position: "right", min: 17.86, max: 96.6, axisLine: { show: false },
        axisTick: { show: false, customValues: rsiTicks }, splitLine: { show: true, lineStyle: { color: GRIDC, width: 2 } },
        axisLabel: { customValues: rsiTicks, align: "left", margin: 17, color: GREY, fontSize: 22, fontFamily: FONT,
          formatter: (v: number) => v.toFixed(2) } },
      { type: "log", gridIndex: 1, position: "right", min: 55.18, max: 107.04, axisLine: { show: false },
        axisTick: { show: false, customValues: priceGridLevels }, splitLine: { show: true, lineStyle: { color: GRIDC, width: 2 } },
        axisLabel: { customValues: priceTicks, align: "left", margin: 17, color: GREY, fontSize: 22, fontFamily: FONT,
          formatter: (v: number) => v.toFixed(5) } },
      { type: "value", gridIndex: 1, min: 0, max: 71280, show: false, splitLine: { show: false } },
    ],
    series: [
      { name: "RSI", type: "line", xAxisIndex: 0, yAxisIndex: 0, data: pts(rsi), showSymbol: false, silent: true, z: 4,
        lineStyle: { color: "#7e57c2", width: 2 },
        markArea: { silent: true, z: 1, itemStyle: { color: "rgba(126,87,194,0.1)" }, data: [[{ yAxis: 70 }, { yAxis: 30 }]] },
        markLine: { silent: true, symbol: "none", label: { show: false }, z: 3,
          data: [
            { yAxis: 70, lineStyle: { color: "#787b86", width: 3, type: [12, 10] } },
            { yAxis: 50, lineStyle: { color: "rgba(120,123,134,0.55)", width: 3, type: [12, 10] } },
            { yAxis: 30, lineStyle: { color: "#787b86", width: 3, type: [12, 10] } },
          ] } },
      { name: "RSI MA", type: "line", xAxisIndex: 0, yAxisIndex: 0, data: pts(rsiMa), showSymbol: false, silent: true, z: 5,
        smooth: 0.3, lineStyle: { color: "#fdd835", width: 2.5 } },
      { name: "Volume", type: "bar", xAxisIndex: 1, yAxisIndex: 2, barWidth: 2, silent: true, z: 1,
        data: volumes.map((v, i) => ({
          value: [barTime(i), v],
          itemStyle: { color: candles[i][3] >= candles[i][0] ? "#8cc3b5" : "#f09990" },
        })) },
      { name: "Wicks", type: "candlestick", xAxisIndex: 1, yAxisIndex: 1, barWidth: 0.5, silent: true, z: 2,
        itemStyle: { color: "#747474", color0: "#747474", borderColor: "#747474", borderColor0: "#747474", borderWidth: 1.8 },
        data: candles.map(([o, h, l, c], i) => [barTime(i), o, c, l, h]) },
      { name: "SOLUSD", type: "candlestick", xAxisIndex: 1, yAxisIndex: 1, barWidth: 3, silent: true, z: 3,
        itemStyle: { color: "#1f5c3d", color0: "#5b1a14", borderColor: "#1f5c3d", borderColor0: "#5b1a14", borderWidth: 1 },
        data: candles.map(([o, , , c], i) => [barTime(i), o, c, Math.min(o, c), Math.max(o, c)]) },
      overlay("EMA 200", pts(ema200), "#2962ff", 2.5, { smooth: 0.3 }),
      overlay("EMA 50", pts(ema50), "#f23645", 2.5, { smooth: 0.3 }),
      overlay("EMA 20", pts(ema20), "#0d6b55", 2.5, { smooth: 0.3 }),
      overlay("Last price", [[X_MIN, LAST_PRICE], [X_MAX, LAST_PRICE]], "#d9574a", 2, { line: { type: [2, 7] }, z: 6 }),
      overlay("Support", [[X_MIN, SUPPORT], [X_MAX, SUPPORT]], "#000000", 4, { z: 7 }),
      overlay("Channel top", upperChannel, "#000000", 4.5, { line: { cap: "round" }, z: 7 }),
      overlay("Channel bottom", lowerChannel, "#000000", 4.5, { line: { cap: "round" }, z: 7 }),
      overlay("Target left", leftDrop, "#000000", 5, { line: { type: [4, 12] }, z: 7 }),
      overlay("Target right", rightDrop, "#000000", 5, { line: { type: [4, 12] }, z: 7 }),
      { name: "Arrow heads", type: "scatter", xAxisIndex: 1, yAxisIndex: 1, data: arrowDots, symbol: "diamond", symbolSize: 6, silent: true, z: 7,
        itemStyle: { color: "#000000" } },
    ],
    graphic: [
      box(20, 54, 2730, 1499, PEACH, 0, -10),
      // pane rules
      box(20, 241.5, 2730, 3, "#2a2e39", 0, 50),
      box(20, 1429.5, 2730, 3, "#2a2e39", 0, 50),
      box(20, 1497.5, 2730, 3, "#555555", 0, 50),
      box(2594, 54, 2, 1499, "#555555", 0, 50),
      box(20, 53, 2730, 2, "#6e6a66", 0, 50),
      box(20, 1552, 2730, 2, "#6e6a66", 0, 50),
      box(19, 54, 2, 1499, "#6e6a66", 0, 50),
      box(2749, 54, 2, 1499, "#6e6a66", 0, 50),
      txt(20, 32, "bitcoinwallah created with TradingView.com, Jun 23, 2026 08:01 UTC", "#d9d9d9", 23.8),
      txt(36, 86, "RSI (14, close)", GREY, 24.5),
      txt(212, 86, "38.73", "#7e57c2", 24),
      txt(290, 86, "54.64", "#fdd835", 24),
      txt(36, 276, "Solana / U.S. Dollar · 4h · Bitstamp", GREY, 24),
      txt(437, 276, "O", GREY, 23), txt(455, 276, "69.92000", "#5b1a14", 23),
      txt(580, 276, "H", GREY, 23), txt(597, 276, "69.93000", "#5b1a14", 23),
      txt(723, 276, "L", GREY, 23), txt(737, 276, "69.82100", "#5b1a14", 23),
      txt(855, 276, "C", GREY, 23), txt(872, 276, "69.86700", "#5b1a14", 23),
      txt(998, 276, "−0.04800", "#5b1a14", 23), txt(1116, 276, "(−0.07%)", "#5b1a14", 23),
      txt(36, 310, "EMA (50, close)", GREY, 24), txt(229, 310, "71.41859", "#f23645", 24.5),
      txt(36, 344, "EMA (200, close)", GREY, 24), txt(244, 344, "74.14391", "#2962ff", 24.5),
      txt(36, 378, "Vol · SOL", GREY, 24), txt(153, 378, "158", "#ef5350", 24),
      txt(36, 412, "EMA (20, close)", GREY, 24), txt(229, 412, "71.98892", "#00695c", 24.5),
      txt(37, 1464, "Funding Rate", GREY, 24),
      box(2602, 252, 140, 52, "#ffffff", 8),
      txt(2621, 278, "USD", "#000000", 24, 500),
      txt(1937.5, 832, "Fakeout", "#000000", 31, 700, { align: "center" }),
      box(2489, 992, 106, 31, "#d9574a", [4, 0, 0, 4]),
      box(2595, 992, 132, 58, "#d9574a", [0, 4, 4, 0]),
      txt(2497, 1008, "SOLUSD", "#ffffff", 22),
      txt(2612, 1008, "69.86700", "#ffffff", 22),
      txt(2612, 1034, "03:58:22", "#f5cfc8", 22),
      box(2595, 1238, 132, 31, "#000000", [0, 4, 4, 0]),
      txt(2612, 1254, "60.91282", "#ffffff", 22),
      { type: "tvlogo", x: 24, y: 1591, scaleX: 1.67, scaleY: 1.67, z: 100, silent: true, style: { fill: "#dcdcdc" } },
      txt(97, 1613, "TradingView", "#dcdcdc", 40, 600),
    ],
  };
}

export default function App() {
  const ref = useRef<HTMLDivElement>(null);
  useEffect(() => {
    document.body.style.margin = "0";
    document.body.style.background = DARK;
    const chart = echarts.init(ref.current!, undefined, { renderer: "svg" });
    chart.setOption(buildOption() as any);
    return () => chart.dispose();
  }, []);
  return <div ref={ref} style={{ width: 2770, height: 1674 }} />;
}
